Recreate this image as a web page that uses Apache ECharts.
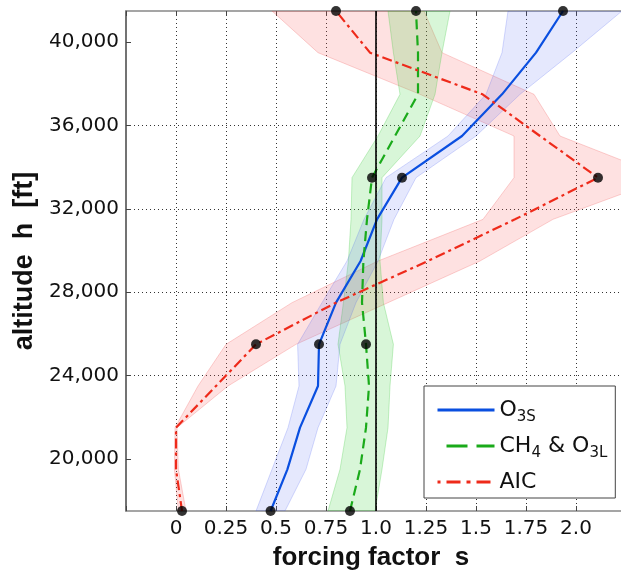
<!DOCTYPE html>
<html><head><meta charset="utf-8">
<script src="https://cdn.jsdelivr.net/npm/echarts@6/dist/echarts.min.js"></script>
<style>html,body{margin:0;padding:0;background:#fff}#c{width:621px;height:570px}</style>
</head><body><div id="c"></div>
<script>
// ---- data ----
const altitudes = [17500,19500,21500,23500,25500,27500,29500,31500,33500,35500,37500,39500,41500];
const markerAltitudes = [17500,25500,33500,41500];

const o3s      = [0.473,0.557,0.62,0.71,0.715,0.80,0.923,1.005,1.13,1.43,1.63,1.80,1.935];
const o3sLow   = [0.40,0.48,0.56,0.615,0.608,0.73,0.855,0.94,1.05,1.36,1.55,1.63,1.66];
const o3sHigh  = [0.545,0.65,0.71,0.80,0.82,0.90,1.01,1.09,1.20,1.50,1.72,1.98,2.23];

const ch4      = [0.87,0.92,0.95,0.965,0.95,0.93,0.937,0.955,0.98,1.095,1.21,1.21,1.20];
const ch4Low   = [0.76,0.82,0.855,0.845,0.81,0.837,0.862,0.875,0.88,1.01,1.12,1.087,1.06];
const ch4High  = [0.995,1.03,1.06,1.07,1.087,1.037,1.02,1.03,1.03,1.22,1.295,1.33,1.37];

const aic      = [0.03,0.0,0.0,0.20,0.40,0.80,1.26,1.695,2.11,1.82,1.533,0.97,0.80];
const aicLow   = [0.012,-0.008,-0.005,0.11,0.25,0.58,1.01,1.535,1.69,1.69,1.22,0.71,0.48];
const aicHigh  = [0.05,0.012,0.005,0.26,0.60,1.06,1.52,1.885,2.45,1.92,1.79,1.33,1.24];

const referenceS = 1.0;
const yTickValues = [20000,24000,28000,32000,36000,40000];
const xTickValues = [0,0.25,0.5,0.75,1.0,1.25,1.5,1.75,2.0];
const xTickLabels = ['0','0.25','0.5','0.75','1.0','1.25','1.5','1.75','2.0'];
const seriesNames = ['O3S','CH4 & O3L','AIC'];

// ---- chart ----
const FONT = '"DejaVu Sans", "Liberation Sans", Arial, sans-serif';
const NAMEFONT = '"Liberation Sans", Arial, Helvetica, sans-serif';
const chart = echarts.init(document.getElementById('c'));

function pairs(xs){ return altitudes.map((a,i)=>[xs[i], a]); }
function markers(xs){ return markerAltitudes.map(a => [xs[altitudes.indexOf(a)], a]); }
function band(name, lo, hi, fill, stroke){
  return {
    type:'custom', name:name, silent:true, clip:true, z:1,
    data:[[lo[0], altitudes[0]]],
    renderItem:function(params, api){
      const pts=[];
      for(let i=0;i<altitudes.length;i++) pts.push(api.coord([lo[i], altitudes[i]]));
      for(let i=altitudes.length-1;i>=0;i--) pts.push(api.coord([hi[i], altitudes[i]]));
      return {type:'polygon', shape:{points:pts}, style:{fill:fill, stroke:stroke, lineWidth:1}};
    }
  };
}

const gridLine = {show:true, showMinLine:false, showMaxLine:false, lineStyle:{type:[1,3], color:'#333', width:1}};

chart.setOption({
  animation:false,
  backgroundColor:'#fff',
  grid:{left:126, right:-5, top:11, bottom:59, containLabel:false, outerBoundsMode:'none'},
  legend:{
    data:[
      {name:seriesNames[0], lineStyle:{width:3, type:'solid'}},
      {name:seriesNames[1], lineStyle:{width:3, type:[21,9], dashOffset:21}},
      {name:seriesNames[2], lineStyle:{width:3, type:[14,6,4,6]}}
    ],
    orient:'vertical', left:424, top:386,
    backgroundColor:'#fff', borderColor:'#444', borderWidth:1, borderRadius:0,
    padding:[13,8,5,12], itemGap:10, itemWidth:57, itemHeight:14,
    itemStyle:{opacity:0},
    formatter:function(n){
      return {'O3S':'{t|O}{s|3S}', 'CH4 & O3L':'{t|CH}{s|4}{t| & O}{s|3L}', 'AIC':'{t|AIC}'}[n];
    },
    textStyle:{
      color:'#111', fontFamily:FONT,
      rich:{
        t:{fontSize:22, lineHeight:30, fontFamily:FONT, color:'#111'},
        s:{fontSize:15, lineHeight:21, verticalAlign:'bottom', fontFamily:FONT, color:'#111'}
      }
    }
  },
  xAxis:[{
    type:'value', min:-0.25, max:2.25, interval:0.25, position:'bottom',
    name:'forcing factor  s', nameLocation:'middle', nameGap:34,
    nameTextStyle:{fontFamily:NAMEFONT, fontSize:26, fontWeight:'bold', color:'#111', padding:[0,10,0,0]},
    axisLine:{show:true, onZero:false, lineStyle:{color:'#888', width:1.5}},
    axisTick:{show:true, inside:true, length:5, lineStyle:{color:'#444'}},
    axisLabel:{margin:8, fontSize:20, color:'#111', fontFamily:FONT,
      formatter:function(v){ const i = xTickValues.findIndex(t=>Math.abs(t-v)<1e-9); return i>=0 ? xTickLabels[i] : ''; }},
    splitLine:gridLine
  },{
    type:'value', min:-0.25, max:2.25, interval:0.25, position:'top',
    axisLine:{show:true, onZero:false, lineStyle:{color:'#888', width:1.5}},
    axisTick:{show:true, inside:true, length:5, lineStyle:{color:'#444'}},
    axisLabel:{show:false}, splitLine:{show:false}
  }],
  yAxis:{
    type:'value', min:17500, max:41500,
    name:'altitude  h  [ft]', nameLocation:'middle', nameGap:86,
    nameTextStyle:{fontFamily:NAMEFONT, fontSize:27, fontWeight:'bold', color:'#111'},
    axisLine:{show:true, onZero:false, lineStyle:{color:'#444', width:1.5}},
    axisTick:{show:true, inside:true, length:5, customValues:yTickValues, lineStyle:{color:'#444'}},
    axisLabel:{margin:7, fontSize:20, color:'#111', fontFamily:FONT, customValues:yTickValues,
      formatter:function(v){ return Number(v).toLocaleString('en-US'); }},
    splitLine:gridLine
  },
  series:[
    band('aicBand', aicLow, aicHigh, 'rgba(250,90,90,0.18)', 'rgba(240,80,80,0.25)'),
    band('ch4Band', ch4Low, ch4High, 'rgba(60,210,60,0.20)', 'rgba(60,200,60,0.28)'),
    band('o3sBand', o3sLow, o3sHigh, 'rgba(70,90,240,0.14)', 'rgba(70,90,240,0.22)'),
    {type:'line', name:'O3S', data:pairs(o3s), symbol:'none', z:3,
      lineStyle:{color:'#0a4fe0', width:2.2, type:'solid'}, itemStyle:{color:'#0a4fe0'},
      markLine:{silent:true, symbol:['none','none'], label:{show:false}, z:4,
        lineStyle:{color:'#000', width:1.6, type:'solid'}, data:[{xAxis:referenceS}]}},
    {type:'line', name:'CH4 & O3L', data:pairs(ch4), symbol:'none', z:3,
      lineStyle:{color:'#1aaa1a', width:2.2, type:[10,6]}, itemStyle:{color:'#1aaa1a'}},
    {type:'line', name:'AIC', data:pairs(aic), symbol:'none', z:3,
      lineStyle:{color:'#ee2a1a', width:2.2, type:[10,4,3,4]}, itemStyle:{color:'#ee2a1a'}},
    {type:'scatter', name:'points', symbolSize:10, z:5, itemStyle:{color:'#000'},
      data:[].concat(markers(o3s), markers(ch4), markers(aic))}
  ]
});
</script></body></html>
